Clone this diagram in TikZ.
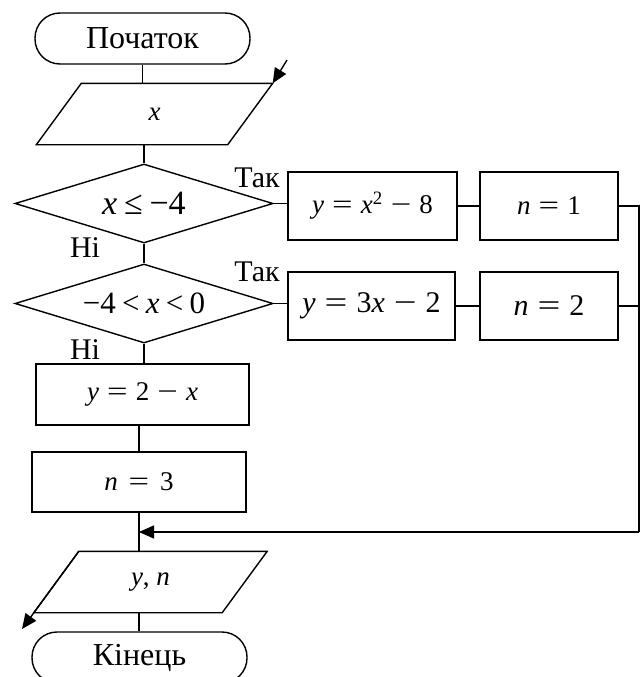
\documentclass[tikz,border=0pt]{standalone}
\usepackage{fontspec}
\setmainfont{Liberation Serif}
\usetikzlibrary{shapes.geometric, arrows.meta, positioning}

\newcommand{\vi}[1]{\textit{#1}}
\newcommand{\mrel}[1]{\hspace{0.3em}\scalebox{1.35}[1]{#1}\hspace{0.3em}}

\begin{document}
\begin{tikzpicture}[
  x=1pt, y=-1pt,
  term/.style={rectangle, draw, rounded corners=25pt, minimum width=215pt, minimum height=51pt, font=\fontsize{32}{36}\selectfont},
  iotext/.style={rectangle, minimum height=60pt, inner sep=0pt, font=\fontsize{27}{30}\selectfont},
  dec/.style={diamond, draw, aspect=3.2, minimum width=258pt, minimum height=79pt, inner sep=0pt},
  proc/.style={rectangle, draw, minimum height=68pt, font=\fontsize{27}{30}\selectfont},
  lbl/.style={font=\fontsize{30}{34}\selectfont, inner sep=0pt},
  arr/.style={-{Triangle[length=15pt, width=13pt]}},
  line width=1.4pt,
]
\fill[white] (0,0) rectangle (640,677);
\useasboundingbox (0,0) rectangle (640,677);

\node[term] (start) at (142.5,38.5) {Початок};
\node[iotext, minimum width=190pt] (inp) at (154.5,114) {\vi{x}};
\node[dec, font=\fontsize{34}{38}\selectfont] (c1) at (144,203.5) {\raisebox{-4pt}{\vi{x}\hspace{0.2em}≤\hspace{0.2em}−4}};
\node[dec, font=\fontsize{31}{34}\selectfont] (c2) at (144,303.5) {−4\hspace{0.2em}<\hspace{0.2em}\vi{x}\hspace{0.2em}<\hspace{0.2em}0};
\node[proc, minimum width=169pt] (f1) at (372.5,206) {\vi{y}\mrel{=}\vi{x}\textsuperscript{2}\mrel{−}8};
\node[proc, minimum width=138pt] (n1) at (549,206) {\vi{n}\mrel{=}1};
\node[proc, minimum width=167pt, font=\fontsize{30}{34}\selectfont] (f2) at (371.5,306) {\vi{y}\mrel{=}3\vi{x}\mrel{−}2};
\node[proc, minimum width=138pt, font=\fontsize{30}{34}\selectfont] (n2) at (549,306) {\vi{n}\mrel{=}2};
\node[proc, minimum width=213pt, minimum height=61pt] (f3) at (142.5,394.5) {\vi{y}\mrel{=}2\mrel{−}\vi{x}};
\node[proc, minimum width=214pt, minimum height=60pt] (n3) at (139,482) {\vi{n}\hspace{0.1em}\mrel{=}\hspace{0.1em}3};
\node[iotext, minimum width=187pt] (out) at (150.5,582) {\vi{y}, \vi{n}};
\node[term] (stop) at (139.5,657.5) {Кінець};

% parallelograms round the input and output texts
\draw ([xshift=22.5pt]inp.north west) -- ([xshift=22.5pt]inp.north east)
   -- ([xshift=-22.5pt]inp.south east) -- ([xshift=-22.5pt]inp.south west) -- cycle;
\draw ([xshift=22.5pt]out.north west) -- ([xshift=22.5pt]out.north east)
   -- ([xshift=-22.5pt]out.south east) -- ([xshift=-22.5pt]out.south west) -- cycle;
\coordinate (inp-tr) at ([xshift=22.5pt]inp.north east);
\coordinate (out-tl) at ([xshift=22.5pt]out.north west);

% answers
\node[lbl] (yes1) at (257,178) {Так};
\node[lbl] (yes2) at (257,272) {Так};
\node[lbl] (no1)  at (85,248)  {Ні};
\node[lbl] (no2)  at (85,350)  {Ні};

\coordinate (inpin)  at (287,60);
\coordinate (outend) at (22,629);
\coordinate (merge)  at (639,532);

\draw (start.south) -- (start.south |- inp.north);
\draw[arr] (inpin) -- (inp-tr);
\draw (c1.north |- inp.south) -- (c1.north);
\draw (c1.south) -- (c2.north);
\draw (c2.south) -- (c2.south |- f3.north);
\draw (n3.north |- f3.south) -- (n3.north);
\draw (n3.south) -- (n3.south |- out.north);
\draw (n3.south |- out.south) -- (n3.south |- stop.north);
\draw (c1.east) -- (c1.east -| f1.west);
\draw (f1) -- (n1);
\draw (n1.east) -- (n1.east -| merge) -- (merge);
\draw (c2.east) -- (c2.east -| f2.west);
\draw (f2) -- (n2);
\draw (n2.east) -- (n2.east -| merge);
\draw[arr] (merge) -- (merge -| n3.south);
\draw[arr] (out-tl) -- (outend);
\end{tikzpicture}
\end{document}
